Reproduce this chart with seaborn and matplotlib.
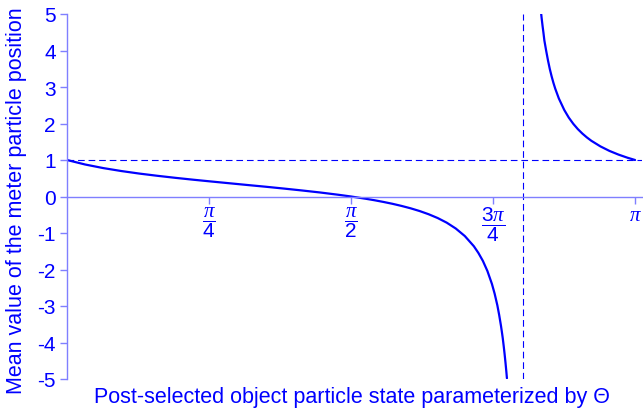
import numpy as np
import pandas as pd
import matplotlib
matplotlib.use("Agg")
import matplotlib.pyplot as plt
import seaborn as sns

# values
theta_lower = [0.0, 0.1, 0.2, 0.3, 0.4, 0.5, 0.6, 0.7, 0.8, 0.9, 1.0, 1.1, 1.2, 1.3, 1.4,
               1.5, 1.5708, 1.65, 1.7, 1.75, 1.8, 1.85, 1.9, 1.95, 2.0, 2.05, 2.1, 2.15,
               2.2, 2.25, 2.275, 2.3, 2.325, 2.35, 2.365, 2.38, 2.39, 2.4, 2.405, 2.41,
               2.415, 2.42, 2.425, 2.43, 2.433]
mean_lower = [1.0, 0.877, 0.779, 0.698, 0.628, 0.567, 0.511, 0.459, 0.41, 0.362, 0.314,
              0.267, 0.217, 0.165, 0.11, 0.048, 0.0, -0.06, -0.102, -0.149, -0.2, -0.258,
              -0.323, -0.398, -0.486, -0.59, -0.717, -0.877, -1.083, -1.362, -1.545,
              -1.764, -2.041, -2.395, -2.662, -2.981, -3.243, -3.54, -3.707, -3.885,
              -4.091, -4.31, -4.55, -4.81, -4.98]
theta_upper = [2.6225, 2.625, 2.63, 2.635, 2.64, 2.65, 2.66, 2.67, 2.68, 2.69, 2.7, 2.72,
               2.75, 2.775, 2.8, 2.825, 2.85, 2.875, 2.9, 2.95, 3.0, 3.05, 3.1, 3.1416]
mean_upper = [5.0, 4.885, 4.675, 4.484, 4.277, 3.993, 3.73, 3.495, 3.295, 3.116, 2.957,
              2.687, 2.371, 2.162, 1.991, 1.847, 1.725, 1.619, 1.526, 1.373, 1.249, 1.148,
              1.062, 1.0]
pole_theta = 2.522
ref_level = 1.0

x_tick_labels = [r"$\dfrac{\pi}{4}$", r"$\dfrac{\pi}{2}$", r"$\dfrac{3\pi}{4}$", r"$\pi$"]
y_ticks = [-5, -4, -3, -2, -1, 0, 1, 2, 3, 4, 5]

BLUE = "#0000ff"
AXIS_BLUE = "#7f7fff"

sns.set_style("ticks")
plt.rcParams["font.family"] = ["Liberation Sans", "DejaVu Sans"]
plt.rcParams["mathtext.fontset"] = "custom"
plt.rcParams["mathtext.rm"] = "Liberation Sans"
plt.rcParams["mathtext.it"] = "Liberation Serif:italic"
plt.rcParams["axes.unicode_minus"] = False

lower = pd.DataFrame({"theta": theta_lower, "mean": mean_lower})
upper = pd.DataFrame({"theta": theta_upper, "mean": mean_upper})

fig = plt.figure(figsize=(6.43, 4.14), dpi=100)
ax = fig.add_axes([67 / 643, 34 / 414, 575 / 643, 365 / 414])

sns.lineplot(data=lower, x="theta", y="mean", color=BLUE, linewidth=1.6, sort=False, ax=ax)
sns.lineplot(data=upper, x="theta", y="mean", color=BLUE, linewidth=1.6, sort=False, ax=ax)

ax.axhline(ref_level, color=BLUE, linewidth=0.8, dashes=(6, 3.5), zorder=1)
ax.axvline(pole_theta, color=BLUE, linewidth=0.8, dashes=(6, 3.5), zorder=1)

ax.set_xlim(0, 3.18)
ax.set_ylim(-5, 5)

for side in ["top", "right"]:
    ax.spines[side].set_visible(False)
ax.spines["left"].set_position(("data", 0))
ax.spines["bottom"].set_position(("data", 0))
for side in ["left", "bottom"]:
    ax.spines[side].set_color(AXIS_BLUE)
    ax.spines[side].set_linewidth(1.0)

ax.set_xticks([np.pi / 4, np.pi / 2, 3 * np.pi / 4, np.pi])
ax.set_xticklabels(x_tick_labels)
ax.set_yticks(y_ticks)
ax.set_yticklabels([str(v) for v in y_ticks])
ax.tick_params(axis="both", colors=AXIS_BLUE, labelcolor=BLUE, labelsize=15, length=5, width=1)
ax.tick_params(axis="x", pad=1)
ax.tick_params(axis="y", pad=3)

ax.set_xlabel("Post-selected object particle state parameterized by \u0398", color=BLUE, fontsize=15.5)
ax.set_ylabel("Mean value of the meter particle position", color=BLUE, fontsize=15.5)
ax.xaxis.set_label_coords(0.495, -0.018)
ax.yaxis.set_label_coords(-0.07, 0.49)

fig.savefig("out.png", dpi=100)
